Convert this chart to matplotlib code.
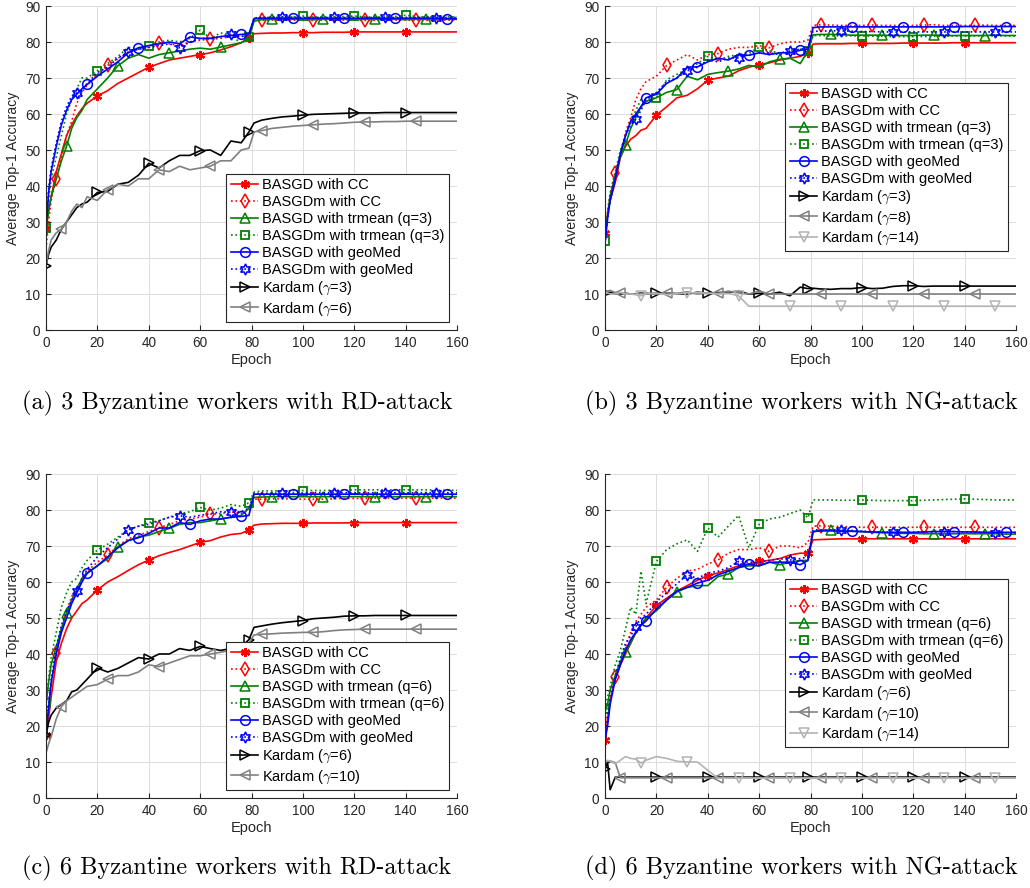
import numpy as np
import matplotlib
matplotlib.use('Agg')
import matplotlib.pyplot as plt
from matplotlib.lines import Line2D

plt.rcParams['font.family'] = ['Liberation Sans', 'DejaVu Sans']
plt.rcParams['mathtext.fontset'] = 'cm'

# ---------------------------------------------------------------------------
# Data (shared epoch grid: 26 points up to 79, 21 after)
# ---------------------------------------------------------------------------
epochs = [0, 1, 2, 4, 6, 8, 10, 12, 14, 16, 20, 24, 28, 32, 36, 40, 44, 48, 52, 56, 60, 64, 68, 72, 76, 79,
          81, 84, 88, 92, 96, 100, 104, 108, 112, 116, 120, 124, 128, 132, 136, 140, 144, 148, 152, 156, 160]

# (a) 3 Byzantine workers, RD-attack
a_cc = [28, 33, 37, 44, 49, 54, 57, 59.5, 61.5, 63, 65, 66.5, 68.5, 70, 71.5, 73, 74, 75, 75.5, 76, 76.5, 77, 77.8, 78.7, 79.8, 81,
        82.3, 82.4, 82.5, 82.5, 82.6, 82.6, 82.6, 82.7, 82.7, 82.7, 82.8, 82.8, 82.8, 82.8, 82.8, 82.8, 82.8, 82.8, 82.8, 82.8, 82.8]
a_ccm = [22.5, 30, 36, 42, 48, 54, 58, 63, 66, 68, 71, 73.5, 75.5, 77, 78, 78.5, 79.8, 79.5, 79, 80, 80.5, 80.8, 81, 81.5, 81.5, 82,
         86, 86, 86.1, 86.1, 86.1, 86, 86, 86.1, 86.1, 86.1, 86.1, 86, 86, 86.1, 86.1, 86.1, 86, 86, 86.1, 86.1, 86.1]
a_trm = [28, 33, 37, 42, 47, 51, 56, 59, 61, 64, 67, 70, 73.4, 75.5, 76.5, 75.5, 76.5, 77, 77.5, 78, 78.3, 78, 78.6, 79.2, 79.8, 81,
         85.8, 86.2, 86.3, 86.2, 86.3, 86.3, 86.2, 86.3, 86.3, 86.3, 86.2, 86.3, 86.3, 86.3, 86.3, 86.2, 86.3, 86.3, 86.3, 86.3, 86.3]
a_trmm = [28.4, 36, 42, 48, 54, 60, 64, 67, 70, 70, 72, 74, 76, 78.5, 78, 78.9, 80, 80.5, 80, 81, 83.3, 81, 82.5, 82, 79.5, 81.5,
          86.5, 86.8, 86.8, 86.9, 87, 87.2, 87, 86.9, 87, 87.1, 87.2, 87, 86.9, 87, 87.1, 87.4, 87.1, 86.9, 87, 87, 87]
a_geo = [28, 38, 44, 51, 57, 61, 64, 65.5, 67, 68.2, 70.5, 72.5, 74.5, 77, 78.4, 79, 79.5, 80, 79.5, 81.4, 81, 81, 81.5, 81.8, 82.1, 82.3,
         86.5, 86.6, 86.6, 86.6, 86.6, 86.6, 86.6, 86.6, 86.6, 86.6, 86.6, 86.6, 86.6, 86.6, 86.6, 86.6, 86.6, 86.6, 86.6, 86.5, 86.5]
a_geom = [28, 39, 45, 52, 58, 62, 65, 65.9, 67, 68.5, 71.5, 73, 75.5, 77.2, 78, 78.5, 79, 79.5, 78.4, 80, 81, 81, 81.5, 82.3, 81.5, 82,
          86.7, 86.8, 86.9, 87, 86.9, 86.8, 86.8, 86.8, 86.9, 86.8, 86.8, 86.8, 86.8, 86.9, 86.8, 86.8, 86.8, 86.9, 86.8, 86.8, 86.8]
a_kd3 = [17.9, 21, 23, 25, 28, 30, 32, 34, 35, 35.5, 38.2, 38.5, 40.5, 41, 43, 46.3, 45, 47, 48.5, 48.5, 49.8, 50, 48.5, 52.5, 52, 55,
         57.5, 58.3, 58.8, 59.2, 59.4, 59.7, 59.9, 60, 60.1, 60.2, 60.3, 60.3, 60.3, 60.4, 60.4, 60.4, 60.4, 60.4, 60.4, 60.4, 60.4]
a_kd6 = [18, 22, 25, 27, 28, 30, 33, 35, 34, 37, 36, 39, 40.5, 40, 42, 42, 44.5, 44, 45.5, 44.5, 45, 45.5, 47, 47, 50, 50.5,
         55, 55.4, 56, 56.3, 56.6, 56.8, 57, 57.2, 57.3, 57.5, 57.7, 57.8, 57.8, 57.9, 57.9, 58, 58, 58, 58, 58, 58]

# (b) 3 Byzantine workers, NG-attack
b_cc = [27, 32, 36, 41, 48, 51, 53, 54, 55.5, 56, 59.7, 62, 64.5, 65.2, 67, 69.4, 70, 70.5, 72, 73, 73.7, 74.2, 75, 75.5, 76, 77,
        79.4, 79.5, 79.5, 79.5, 79.6, 79.6, 79.6, 79.6, 79.6, 79.7, 79.7, 79.7, 79.7, 79.7, 79.8, 79.8, 79.8, 79.8, 79.8, 79.8, 79.8]
b_ccm = [25, 33, 38, 43.5, 49, 55, 59, 64, 67, 69, 70.5, 73.5, 75, 76.5, 75, 76.5, 76.8, 78, 78.5, 78.5, 79, 78.4, 79.5, 80, 80, 80.5,
         84.6, 84.8, 84.7, 84.6, 84.6, 84.6, 84.7, 84.6, 84.6, 84.6, 84.6, 84.7, 84.8, 84.6, 84.6, 84.6, 84.6, 84.7, 84.6, 84.6, 84.6]
b_trm = [26, 32, 37, 43, 48, 51.5, 56, 59, 62, 63.5, 64.5, 66, 66.8, 70.5, 69.5, 71, 71.5, 71.9, 72.5, 73.5, 73, 74.5, 75.2, 75.5, 74, 77.5,
         82, 82.1, 82.1, 82, 81.9, 81.9, 81.9, 81.9, 81.8, 81.8, 81.8, 81.9, 81.9, 81.8, 81.8, 81.8, 81.8, 81.8, 81.9, 81.8, 81.8]
b_trmm = [24.7, 32, 38, 44, 50, 54, 58, 61, 64, 64, 64.5, 69.5, 71, 72.5, 74, 76, 75, 76, 76.5, 77, 78.5, 77.5, 77, 77.5, 78, 77.4,
          81.8, 81.8, 81.7, 81.7, 81.7, 81.7, 81.6, 81.6, 81.5, 81.5, 81.5, 81.5, 81.6, 81.6, 81.7, 81.7, 81.7, 81.7, 81.7, 81.7, 81.7]
b_geo = [24, 31, 36, 42, 49, 54, 58, 60, 62, 64.5, 65.5, 68.5, 70, 73, 73.1, 74.5, 75.5, 75, 76.5, 76.3, 77, 76.5, 77, 77, 77.7, 78,
         84, 84.2, 84.2, 84.2, 84.2, 84.2, 84.2, 84.2, 84.2, 84.2, 84.2, 84.2, 84.2, 84.2, 84.2, 84.3, 84.3, 84.3, 84.3, 84.3, 84.3]
b_geom = [24, 31, 36, 42, 49, 54, 57, 58.5, 61, 64, 66, 69, 70, 72, 73, 75, 74.5, 75.5, 75.6, 76.5, 77, 77, 76.5, 77.5, 78, 78.5,
          83, 83, 83.1, 83.1, 83, 82.9, 82.9, 82.8, 82.8, 82.8, 82.8, 82.8, 82.8, 82.8, 82.8, 82.8, 82.8, 82.8, 82.8, 82.8, 82.8]
b_kd3 = [10.2, 10, 10.5, 10, 10, 10.2, 10, 10, 10.3, 10, 10.2, 10.3, 10, 10, 10.5, 10.2, 10.4, 10.5, 10.8, 10, 10.2, 10, 10.5, 9.5, 11.9, 11.5,
         11.6, 11.4, 11.3, 11.5, 11.5, 11.8, 11.5, 11.6, 12.1, 12.3, 12.3, 12.1, 12.2, 12.2, 12.2, 12.2, 12.2, 12.2, 12.2, 12.2, 12.2]
b_kd8 = [10.5, 10.8, 11, 10.4, 10.3, 10, 10, 10, 10.2, 10.3, 10, 10.3, 10.2, 10.6, 10, 10.3, 10.2, 10.8, 10.3, 10, 10.8, 10, 10, 10, 10, 10,
         10, 10, 10, 10, 10, 10, 10, 10, 10, 10, 10, 10, 10, 10, 10, 10, 10, 10, 10, 10, 10]
b_kd14 = [10, 10.3, 10, 10, 10.5, 10, 10, 9.8, 9.5, 10, 10.2, 9.8, 10, 10.3, 10.4, 10.2, 10, 10.2, 9.5, 6.6, 6.6, 6.6, 6.6, 6.6, 6.6, 6.6,
          6.6, 6.6, 6.6, 6.6, 6.6, 6.6, 6.6, 6.6, 6.6, 6.6, 6.6, 6.6, 6.6, 6.6, 6.6, 6.6, 6.6, 6.6, 6.6, 6.6, 6.6]

# (c) 6 Byzantine workers, RD-attack
c_cc = [17.4, 22, 28, 38, 43, 47, 50, 52, 54, 55, 57.8, 60, 61.5, 63.2, 64.8, 66.1, 67.3, 68.2, 69, 70, 71, 71.5, 72.5, 73.2, 73.5, 74.5,
        75.8, 76.1, 76.2, 76.3, 76.3, 76.3, 76.4, 76.4, 76.4, 76.4, 76.5, 76.5, 76.5, 76.5, 76.5, 76.5, 76.5, 76.5, 76.5, 76.5, 76.5]
c_ccm = [17.5, 24, 31, 40.2, 47, 52, 56, 58, 61, 63, 65.5, 67.5, 70, 72, 73, 74, 75.1, 76, 77, 77.5, 78, 78.8, 79, 79.5, 79, 80,
         83, 83, 83.1, 83.1, 83.1, 83, 83, 83, 83.1, 83.2, 83.2, 83.2, 83.3, 83.3, 83.3, 83.3, 83.3, 83.3, 83.3, 83.3, 83.3]
c_trm = [26, 32, 37, 42, 47, 51.3, 55, 58, 61, 62.5, 64.5, 66.5, 69.8, 71.5, 72.5, 73, 74, 74.9, 76, 76.5, 76.5, 77, 77.5, 78, 78.5, 80.5,
         83.5, 83.6, 83.7, 83.7, 83.7, 83.7, 83.7, 83.7, 83.7, 83.7, 83.7, 83.7, 83.7, 83.7, 83.7, 83.7, 83.7, 83.7, 83.7, 83.7, 83.7]
c_trmm = [26.5, 33, 39, 46, 53, 57, 60, 61, 64, 66, 68.9, 70.5, 72.5, 74.5, 75.5, 76.5, 77, 78, 79, 79.5, 80.7, 80, 80.5, 81.5, 81, 82,
          85, 85.3, 85.3, 85.3, 85.4, 85.4, 85.4, 85.4, 85.5, 85.5, 85.6, 85.6, 85.6, 85.6, 85.6, 85.6, 85.6, 85.6, 85.5, 85.5, 85.5]
c_geo = [18, 25, 32, 40, 46, 50, 54, 57, 60, 62.4, 64.5, 67, 69.5, 71.5, 72.3, 73.5, 75, 75, 76.5, 76, 77, 77.5, 77.5, 78, 78.2, 78.5,
         84.4, 84.4, 84.4, 84.4, 84.4, 84.4, 84.4, 84.4, 84.4, 84.4, 84.4, 84.4, 84.4, 84.4, 84.4, 84.4, 84.4, 84.4, 84.4, 84.4, 84.4]
c_geom = [18, 26, 33, 42, 48, 52, 55, 57.4, 61, 63.5, 67, 69.5, 72, 74.5, 75.5, 76, 77, 78, 78.4, 78, 78.5, 79, 79.5, 79.4, 79.5, 80.5,
          84.6, 84.6, 84.7, 84.6, 84.7, 84.7, 84.8, 84.8, 84.8, 84.8, 84.8, 84.8, 84.8, 84.8, 84.8, 84.8, 84.8, 84.8, 84.8, 84.8, 84.8]
c_kd6 = [17.4, 21, 23, 25, 26, 27, 29.5, 30, 31.5, 33, 36.1, 35, 36, 37.5, 39, 38.6, 40, 40, 41.5, 41, 42.1, 41.5, 41, 41.5, 42, 44,
         47.4, 47.8, 48.3, 48.7, 49, 49.3, 49.8, 50, 50.2, 50.5, 50.6, 50.6, 50.7, 50.7, 50.7, 50.7, 50.7, 50.7, 50.7, 50.7, 50.7]
c_kd10 = [12.5, 15, 17, 22, 25.4, 27, 28, 29, 30, 31, 31.5, 33, 34, 34, 35, 37, 36.5, 37.5, 38.5, 39.5, 39.5, 40, 40.5, 41, 41.5, 43,
          45.3, 45.5, 45.6, 45.8, 45.9, 46, 46, 46.2, 46.5, 46.7, 46.8, 46.9, 46.9, 46.9, 46.9, 46.9, 46.9, 46.9, 46.9, 46.9, 46.9]

# (d) 6 Byzantine workers, NG-attack
d_cc = [16, 22, 27, 33, 37, 40, 43, 46, 48, 50, 53.5, 55.5, 57.5, 59, 60.5, 61.8, 62.5, 63.5, 64.5, 65, 65.7, 66, 66.5, 67.5, 68, 68,
        71.7, 71.8, 71.9, 72, 72, 72, 72, 72, 72, 72, 72, 72, 72, 72, 72, 72, 72, 72, 72, 72, 72]
d_ccm = [16, 24, 29, 33.6, 38, 42, 46, 49, 51, 53, 55, 58.6, 61, 63, 63.5, 65, 66.1, 68, 69, 69, 69.5, 68.5, 70, 70, 69.5, 71,
         75.5, 75.6, 75.5, 75.4, 75.3, 75.2, 75.2, 75.2, 75.2, 75.2, 75.2, 75.2, 75.2, 75.2, 75.2, 75.2, 75.2, 75.2, 75.2, 75.2, 75.2]
d_trm = [24, 26, 30, 34, 38, 40.5, 43, 46, 48, 50, 52, 55, 57.2, 58.5, 59, 59, 61.5, 62.2, 64, 64.5, 64.5, 65.5, 64.8, 65.5, 66, 66,
         74, 74.3, 74.5, 74.3, 74.1, 74, 73.8, 73.7, 73.6, 73.5, 73.5, 73.4, 73.4, 73.4, 73.4, 73.4, 73.4, 73.4, 73.4, 73.3, 73.3]
d_trmm = [24.7, 28, 31, 37, 41, 47, 53, 51, 63, 54, 65.7, 69, 70.6, 71.7, 68.5, 75, 72.5, 75.5, 78.5, 69.5, 76, 77.5, 78, 79, 80, 77.8,
          82.8, 82.8, 82.8, 82.7, 82.7, 82.8, 82.7, 82.6, 82.6, 82.6, 82.6, 82.7, 82.8, 82.9, 83, 83.1, 83, 82.9, 82.8, 82.8, 82.8]
d_geo = [16, 20, 26, 33, 37, 41, 44, 46, 48, 49.2, 52.5, 55, 57.5, 58.5, 59.7, 60.5, 62, 63, 64, 65, 64.5, 65.5, 65.5, 65.5, 64.8, 66,
         74, 74.2, 74.2, 74.1, 74.1, 74, 73.9, 73.8, 73.8, 73.8, 73.8, 73.9, 74, 74, 74, 73.9, 73.9, 73.8, 73.8, 73.8, 73.8]
d_geom = [16, 22, 27, 34, 39, 43, 45, 47.6, 50, 51, 54.5, 57, 59.5, 62, 61, 62.5, 63, 64, 65.7, 65.5, 65.5, 66, 66.5, 66.1, 66.5, 67,
          74.5, 74.5, 74.5, 74.5, 74.3, 74.1, 74, 73.9, 73.8, 73.7, 73.8, 73.9, 74, 74, 74, 73.9, 73.8, 73.7, 73.7, 73.7, 73.7]
d_kd6 = [8, 10, 2.3, 5.8, 5.8, 5.8, 5.8, 5.8, 5.8, 5.8, 5.8, 5.8, 5.8, 5.8, 5.8, 5.8, 5.8, 5.8, 5.8, 5.8, 5.8, 5.8, 5.8, 5.8, 5.8, 5.8,
         5.8, 5.8, 5.8, 5.8, 5.8, 5.8, 5.8, 5.8, 5.8, 5.8, 5.8, 5.8, 5.8, 5.8, 5.8, 5.8, 5.8, 5.8, 5.8, 5.8, 5.8]
d_kd10 = [10, 10.2, 10.3, 9.8, 5.6, 5.6, 5.6, 5.6, 5.6, 5.6, 5.6, 5.6, 5.6, 5.6, 5.6, 5.6, 5.6, 5.6, 5.6, 5.6, 5.6, 5.6, 5.6, 5.6, 5.6, 5.6,
          5.6, 5.6, 5.6, 5.6, 5.6, 5.6, 5.6, 5.6, 5.6, 5.6, 5.6, 5.6, 5.6, 5.6, 5.6, 5.6, 5.6, 5.6, 5.6, 5.6, 5.6]
d_kd14 = [10, 10.5, 10.2, 9.5, 10.5, 11.5, 11, 10.8, 9.7, 10.5, 11.5, 11, 10.2, 10, 10, 7.7, 5.5, 5.5, 5.5, 5.5, 5.5, 5.5, 5.5, 5.5, 5.5, 5.5,
          5.5, 5.5, 5.5, 5.5, 5.5, 5.5, 5.5, 5.5, 5.5, 5.5, 5.5, 5.5, 5.5, 5.5, 5.5, 5.5, 5.5, 5.5, 5.5, 5.5, 5.5]

basgd_labels_q3 = ['BASGD with CC', 'BASGDm with CC', 'BASGD with trmean (q=3)', 'BASGDm with trmean (q=3)',
                   'BASGD with geoMed', 'BASGDm with geoMed']
basgd_labels_q6 = ['BASGD with CC', 'BASGDm with CC', 'BASGD with trmean (q=6)', 'BASGDm with trmean (q=6)',
                   'BASGD with geoMed', 'BASGDm with geoMed']

captions = ['(a) 3 Byzantine workers with RD-attack', '(b) 3 Byzantine workers with NG-attack',
            '(c) 6 Byzantine workers with RD-attack', '(d) 6 Byzantine workers with NG-attack']

# ---------------------------------------------------------------------------
# Styles (MATLAB-like), one per curve type
# ---------------------------------------------------------------------------
RED, GREEN, BLUE = '#ff0000', '#008000', '#0000ff'
style_cc = dict(color=RED, ls='-', marker=(6, 2, 0), ms=6.5, mfc=RED, mew=1.6, off=0)
style_ccm = dict(color=RED, ls=':', marker='d', ms=7.5, mfc='none', mew=1.1, off=4)
style_trm = dict(color=GREEN, ls='-', marker='^', ms=7, mfc='none', mew=1.1, off=8)
style_trmm = dict(color=GREEN, ls=':', marker='s', ms=5.5, mfc='none', mew=1.3, off=0)
style_geo = dict(color=BLUE, ls='-', marker='o', ms=7, mfc='none', mew=1.1, off=16)
style_geom = dict(color=BLUE, ls=':', marker=(6, 1, 0), ms=8, mfc='none', mew=1.1, off=12)
style_k1 = dict(color='#000000', ls='-', marker='>', ms=7.5, mfc='none', mew=1.1, off=0)
style_k2 = dict(color='#808080', ls='-', marker='<', ms=7.5, mfc='none', mew=1.1, off=6)
style_k3 = dict(color='#b3b3b3', ls='-', marker='v', ms=7.5, mfc='none', mew=1.1, off=14)
base_styles = [style_cc, style_ccm, style_trm, style_trmm, style_geo, style_geom]

panels = [
    dict(rect=[46, 6], series=[a_cc, a_ccm, a_trm, a_trmm, a_geo, a_geom, a_kd3, a_kd6],
         labels=basgd_labels_q3 + [r'Kardam ($\gamma$=3)', r'Kardam ($\gamma$=6)'],
         styles=base_styles + [style_k1, style_k2], loc='lower right', anchor=(0.98, 0.025)),
    dict(rect=[605, 6], series=[b_cc, b_ccm, b_trm, b_trmm, b_geo, b_geom, b_kd3, b_kd8, b_kd14],
         labels=basgd_labels_q3 + [r'Kardam ($\gamma$=3)', r'Kardam ($\gamma$=8)', r'Kardam ($\gamma$=14)'],
         styles=base_styles + [style_k1, style_k2, style_k3], loc='upper right', anchor=(0.98, 0.762)),
    dict(rect=[46, 474], series=[c_cc, c_ccm, c_trm, c_trmm, c_geo, c_geom, c_kd6, c_kd10],
         labels=basgd_labels_q6 + [r'Kardam ($\gamma$=6)', r'Kardam ($\gamma$=10)'],
         styles=base_styles + [style_k1, style_k2], loc='lower right', anchor=(0.98, 0.025)),
    dict(rect=[605, 474], series=[d_cc, d_ccm, d_trm, d_trmm, d_geo, d_geom, d_kd6, d_kd10, d_kd14],
         labels=basgd_labels_q6 + [r'Kardam ($\gamma$=6)', r'Kardam ($\gamma$=10)', r'Kardam ($\gamma$=14)'],
         styles=base_styles + [style_k1, style_k2, style_k3], loc='upper right', anchor=(0.98, 0.676)),
]

W, H = 1030, 888
AX_W, AX_H = 411, 324
INK = '#262626'

fig = plt.figure(figsize=(W / 100, H / 100), dpi=100)
ep = np.array(epochs)

for p in panels:
    left, top = p['rect']
    ax = fig.add_axes([left / W, 1 - (top + AX_H) / H, AX_W / W, AX_H / H])
    handles = []
    for y, lab, st in zip(p['series'], p['labels'], p['styles']):
        marks = [int(np.argmin(np.abs(ep - m))) for m in range(st['off'], 160, 20)]
        kw = dict(color=st['color'], ls=st['ls'], lw=1.2, marker=st['marker'], ms=st['ms'],
                  mfc=st['mfc'], mec=st['color'], mew=st['mew'])
        ax.plot(epochs, y, markevery=marks, **kw)
        handles.append(Line2D([], [], label=lab, **kw))

    ax.set_xlim(0, 160)
    ax.set_ylim(0, 90)
    ax.set_xticks(range(0, 161, 20))
    ax.set_yticks(range(0, 91, 10))
    ax.grid(True, color='#dcdcdc', lw=0.7)
    ax.set_axisbelow(True)
    for s in ['top', 'right']:
        ax.spines[s].set_visible(False)
    for s in ['left', 'bottom']:
        ax.spines[s].set_color(INK)
        ax.spines[s].set_linewidth(0.8)
    ax.tick_params(direction='in', length=3.5, width=0.8, color=INK, labelcolor=INK, labelsize=9.8, pad=4)

    ax.set_xlabel('Epoch', fontsize=10.5, color=INK)
    ax.xaxis.set_label_coords(0.5, -0.071)
    ax.set_ylabel('Average Top-1 Accuracy', fontsize=10.2, color=INK)
    ax.yaxis.set_label_coords(-0.063, 0.5)

    leg = ax.legend(handles=handles, loc=p['loc'], bbox_to_anchor=p['anchor'], borderaxespad=0,
                    fontsize=10.5, handlelength=1.9, handletextpad=0.25, labelspacing=0.2,
                    borderpad=0.3, fancybox=False, framealpha=1, edgecolor=INK)
    leg.get_frame().set_linewidth(0.8)

# sub-figure captions (LaTeX-like serif)
cap_pos = [(22, 403), (585, 403), (22, 868), (585, 868)]
for (cx, cy), text in zip(cap_pos, captions):
    fig.text(cx / W, 1 - cy / H, text, ha='left', va='center', family='cmr10', fontsize=17.5)

fig.savefig('out.png', dpi=100)
